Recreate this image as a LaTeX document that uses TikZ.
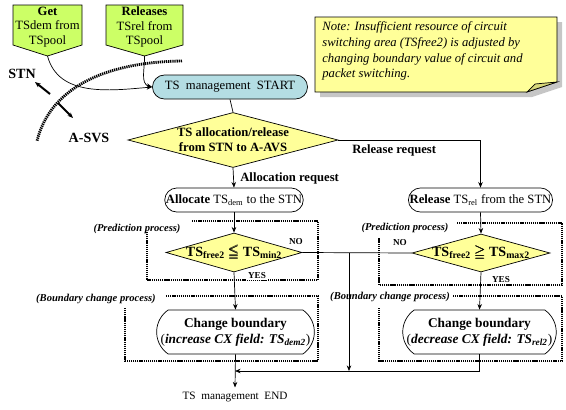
\documentclass[tikz,border=0pt]{standalone}
\usepackage{amsmath,amssymb}
\usepackage{fontspec}
\setmainfont{Liberation Serif}
\usetikzlibrary{arrows.meta,positioning,calc,shapes.geometric,shapes.misc}
\definecolor{notefill}{HTML}{FFFF99}
\definecolor{foldfill}{HTML}{D8D87A}
\definecolor{tagfill}{HTML}{CCFF66}
\definecolor{startfill}{HTML}{B4DDE3}
\tikzset{
    >={Stealth[length=4pt,width=3.2pt]},
    every picture/.style={line width=0.5pt},
    tagtext/.style={align=center,inner sep=0pt,font=\fontsize{9}{10.5}\selectfont},
    term/.style={rounded rectangle,draw,fill=white,minimum height=0.6cm,inner xsep=0pt,inner ysep=2pt,
        font=\fontsize{9}{10}\selectfont},
    decision/.style={diamond,draw,fill=notefill,inner sep=0pt},
    dtext/.style={align=center,inner sep=0pt,font=\fontsize{9}{10.5}\selectfont\bfseries},
    frame/.style={line width=2pt,dash pattern=on 0.9pt off 0.6pt},
    proc/.style={font=\fontsize{7.5}{8}\selectfont\bfseries\itshape,inner sep=1pt},
    yn/.style={font=\fontsize{6.5}{7}\selectfont\bfseries,inner sep=1pt},
    req/.style={font=\fontsize{9}{10}\selectfont\bfseries,inner sep=0pt}
}

\begin{document}
\begin{tikzpicture}[x=0.025cm,y=-0.025cm]
    \useasboundingbox (0,0) rectangle (566,409);

    % Note with shadow
    \fill[gray!45] (320,22) -- (562,22) -- (562,87) -- (532,97) -- (320,97) -- cycle;
    \draw[fill=notefill] (315,17) -- (557,17) -- (557,82) -- (527,92) -- (315,92) -- cycle;
    \draw[fill=foldfill] (527,92) -- (535,84) -- (557,82) -- cycle;
    \node[anchor=north west,align=left,inner sep=0pt,font=\fontsize{9}{11.3}\selectfont\itshape] (note) at (322,21)
        {Note: Insufficient resource of circuit\\switching area (TSfree2) is adjusted by\\changing boundary value of circuit and\\packet switching.};

    % Area border
    \coordinate (arcA) at (182,61);
    \coordinate (arcB) at (37,141);
    \draw[frame] (arcA) .. controls (105,62) and (50,88) .. (arcB);
    \node[font=\fontsize{10}{11}\selectfont\bfseries] (stn) at (22,74) {STN};
    \node[font=\fontsize{10}{11}\selectfont\bfseries] (asvs) at (89,138) {A-SVS};
    \coordinate (up1) at (50,94);
    \coordinate (up2) at (35,82);
    \coordinate (dn1) at (58,103);
    \coordinate (dn2) at (73,118);
    \draw[->,line width=1.4pt] (up1) -- (up2);
    \draw[->,line width=1.4pt] (dn1) -- (dn2);

    % Frames
    \draw[frame] (192,221) -- (318,221) -- (318,280) -- (147,280) -- (147,232);
    \draw[frame] (457,223) -- (562,223) -- (562,285) -- (379,285) -- (379,238);
    \draw[frame] (166,296) -- (318,296) -- (318,361) -- (125,361) -- (125,308);
    \draw[frame] (453,296) -- (562,296) -- (562,361) -- (379,361) -- (379,307);
    \node[proc] (predl) at (137,229) {(Prediction process)};
    \node[proc] (predr) at (405,228) {(Prediction process)};
    \node[proc] (bndl) at (96,299) {(Boundary change process)};
    \node[proc] (bndr) at (390,297) {(Boundary change process)};

    % Pool boxes
    \coordinate (gettip) at (47.5,56);
    \coordinate (reltip) at (144.5,56);
    \draw[fill=tagfill] (13,5) -- (82,5) -- (82,45) -- (gettip) -- (13,45) -- cycle;
    \draw[fill=tagfill] (106,5) -- (183,5) -- (183,45) -- (reltip) -- (106,45) -- cycle;
    \node[tagtext] (get) at (47.5,27) {\textbf{Get}\\TSdem from\\TSpool};
    \node[tagtext] (rel) at (144.5,27) {\textbf{Releases}\\TSrel from\\TSpool};

    % Flow
    \node[term,fill=startfill,minimum width=3.875cm] (start) at (230,87) {TS\enspace management\enspace START};
    \node[decision,minimum width=5.25cm,minimum height=1.375cm] (sel) at (233,140) {};
    \node[dtext] (seltxt) at (sel) {TS allocation/release\\from STN to A-AVS};
    \node[term] (alloc) at (234,200) {\textbf{Allocate} TS\textsubscript{dem} to the STN};
    \node[term] (relts) at (480.5,200) {\textbf{Release} TS\textsubscript{rel} from the STN};
    \node[decision,minimum width=3.4cm,minimum height=0.975cm] (dmin) at (234,252.5) {};
    \node[dtext,font=\fontsize{10}{11}\selectfont\bfseries] (dmintxt) at (dmin) {TS\textsubscript{free2} $\pmb{\leqq}$ TS\textsubscript{min2}};
    \node[decision,minimum width=3.45cm,minimum height=0.95cm] (dmax) at (481,253) {};
    \node[dtext,font=\fontsize{10}{11}\selectfont\bfseries] (dmaxtxt) at (dmax) {TS\textsubscript{free2} $\pmb{\geqq}$ TS\textsubscript{max2}};
    \node[term,minimum height=1.1cm,rounded rectangle arc length=110,align=center,font=\fontsize{9.5}{11.3}\selectfont] (cbl) at (235.5,332)
        {\textbf{Change boundary}\\(\textbf{\textit{increase CX field: TS\textsubscript{dem2}}})};
    \node[term,minimum height=1.1cm,rounded rectangle arc length=110,align=center,font=\fontsize{9.5}{11.3}\selectfont] (cbr) at (479.5,332)
        {\textbf{Change boundary}\\(\textbf{\textit{decrease CX field: TS\textsubscript{rel2}}})};
    \node[font=\fontsize{8}{9}\selectfont,inner sep=3pt] (end) at (235,397) {TS\enspace management\enspace END};

    % Labels
    \node[req,anchor=west] (relreq) at (352,150) {Release request};
    \node[req,anchor=west] (allreq) at (240,178) {Allocation request};
    \node[yn] (nol) at (296,242) {NO};
    \node[yn,fill=white] (yesl) at (257,276) {YES};
    \node[yn] (nor) at (400,243) {NO};
    \node[yn,fill=white] (yesr) at (501,280) {YES};

    % Connectors
    \draw[->] (gettip) to[out=-75,in=185] (start.west);
    \draw[->] (reltip) to[out=-88,in=165] (start.west);
    \draw (start.south) -- (sel.north);
    \draw[->] (sel.east) -| (relts.north);
    \draw[->] (sel.south) -- (alloc.north);
    \draw[->] (alloc.south) -- (dmin.north);
    \draw[->] (relts.south) -- (dmax.north);
    \draw[->] (dmin.south) -- (cbl.north);
    \draw[->] (dmax.south) -- (cbr.north);
    \draw (dmin.east) -- (dmax.west);
    \coordinate (m1) at (349,253);
    \coordinate (m2) at (349,371);
    \coordinate (j) at (235,371);
    \draw[->] (m1) -- (m2);
    \draw[->] (cbr.south) |- (j);
    \draw[->] (cbl.south) -- (end.north);
\end{tikzpicture}
\end{document}
